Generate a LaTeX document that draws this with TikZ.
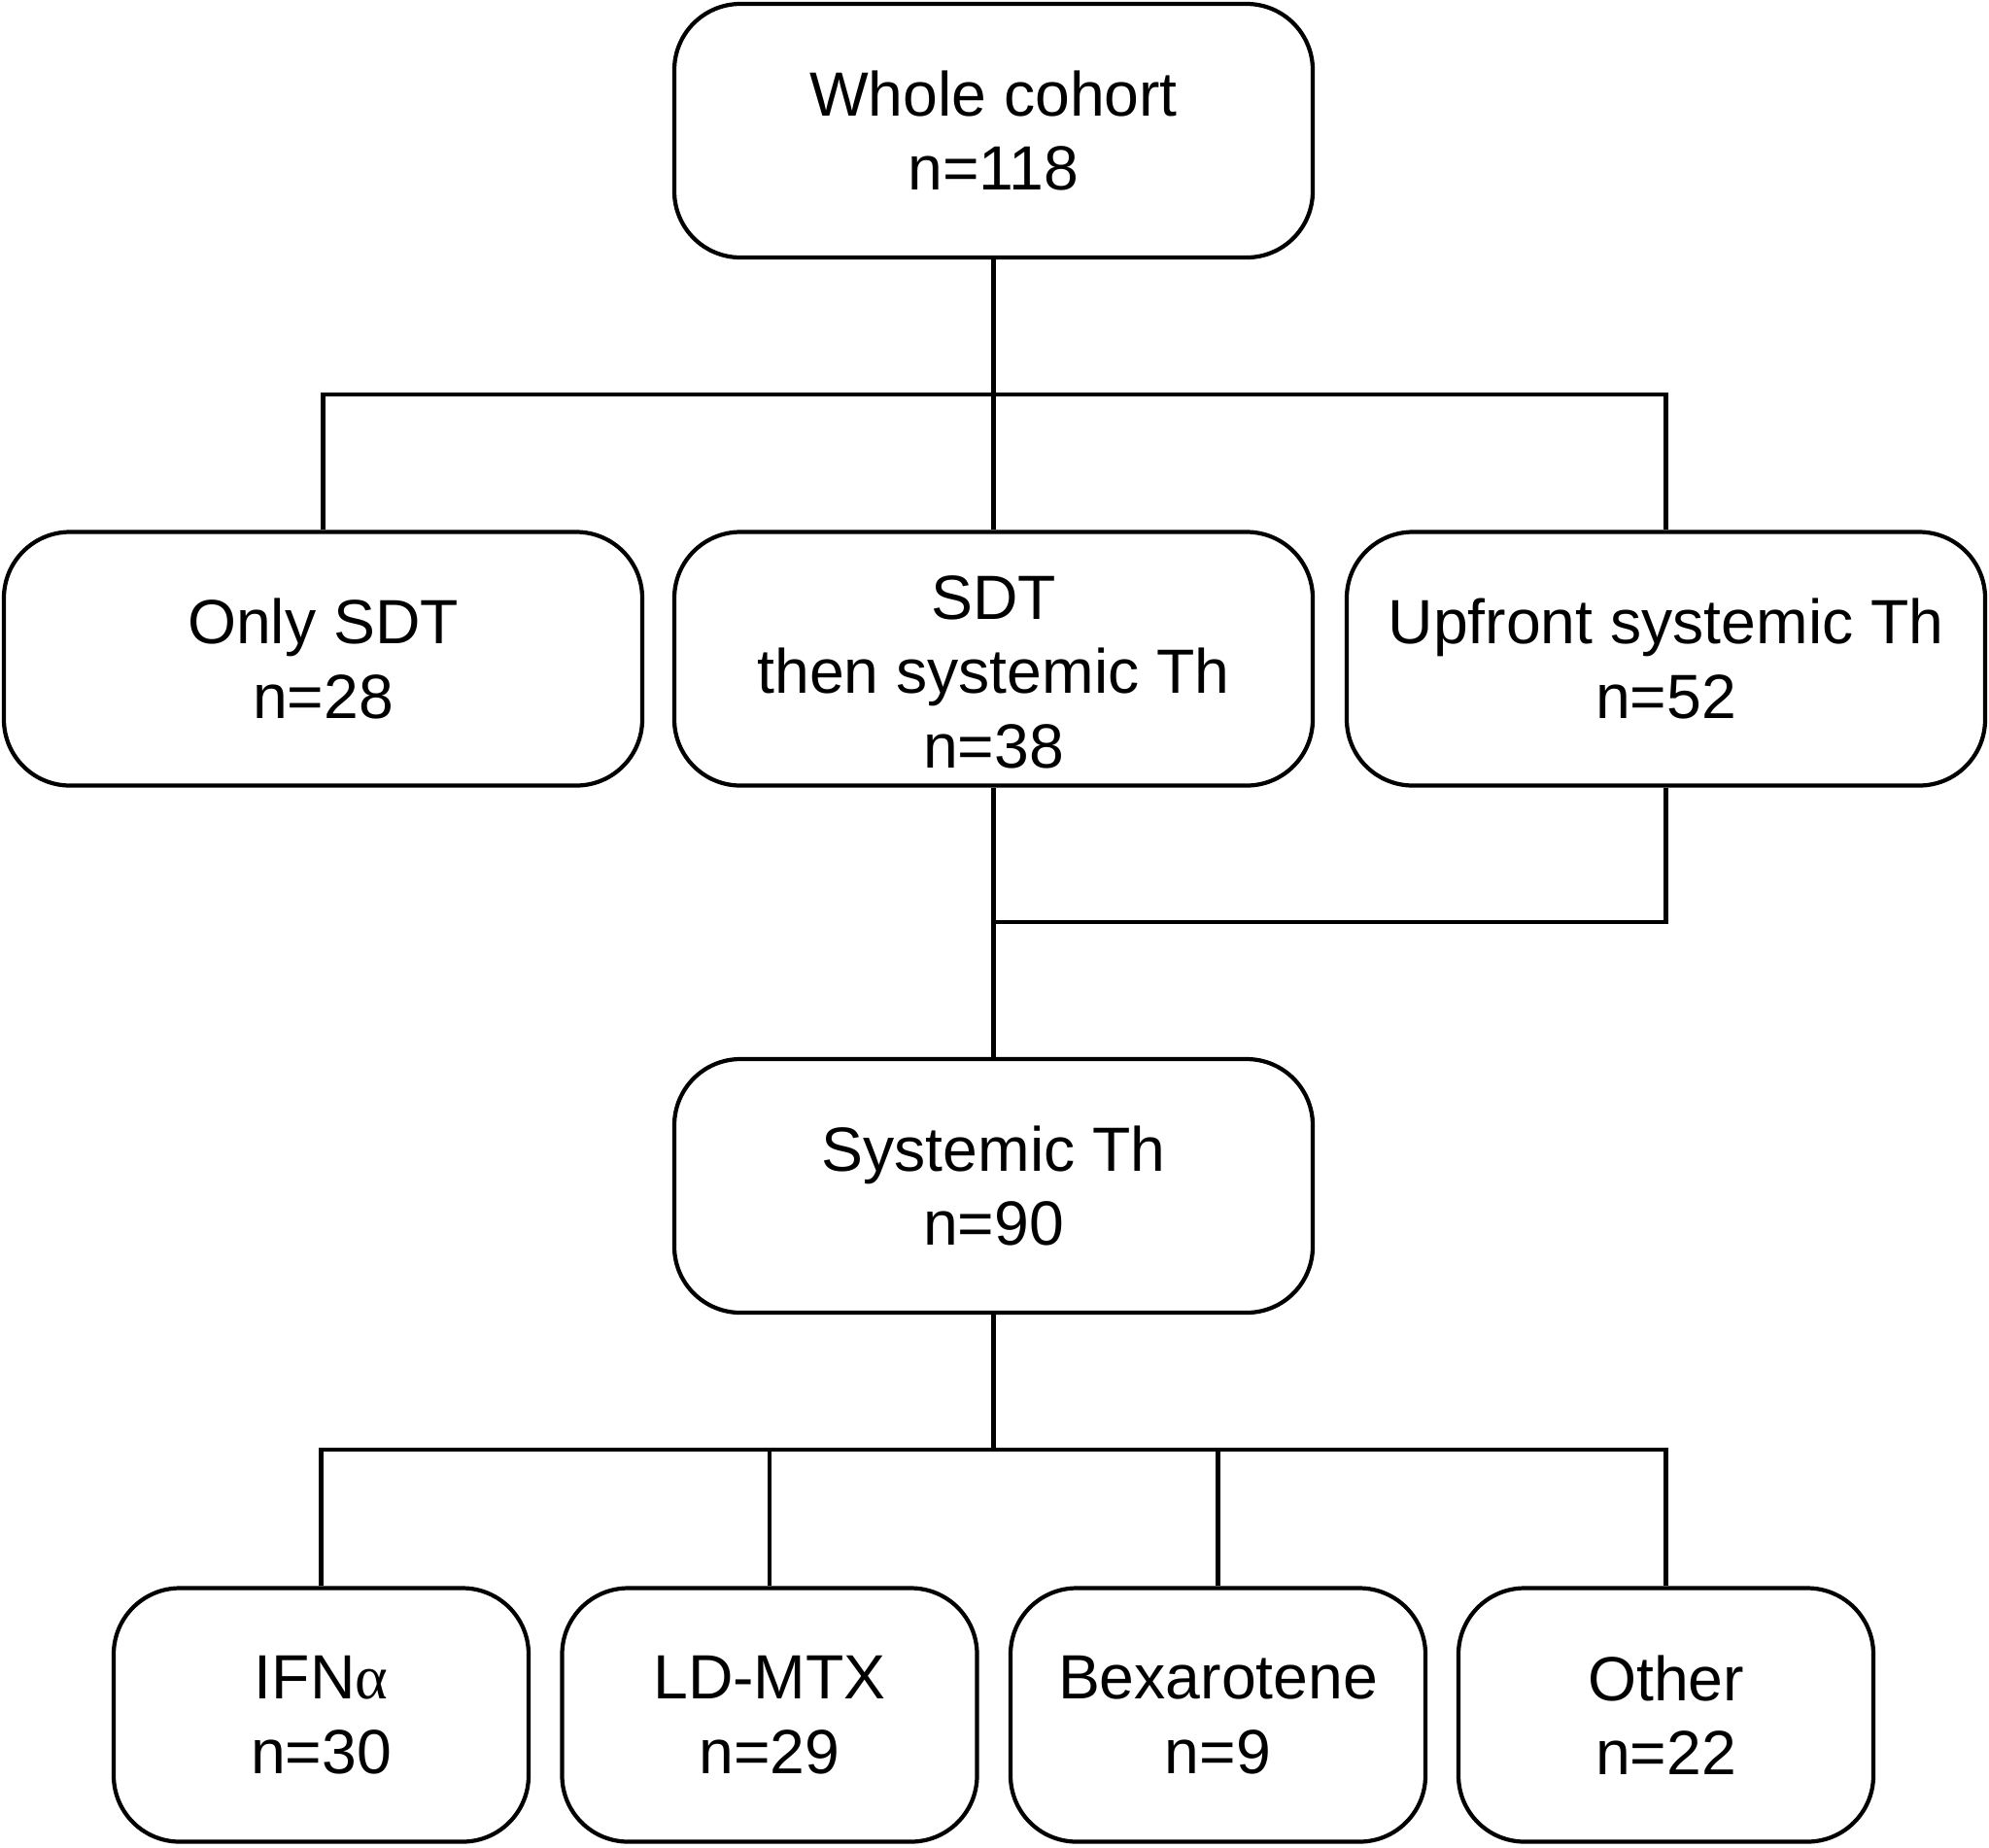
\documentclass[tikz,border=0pt]{standalone}
\usepackage{fontspec}
\setmainfont{Liberation Sans}
\newfontfamily\greekfont{Liberation Serif}
\usetikzlibrary{positioning}

\begin{document}
\begin{tikzpicture}[
    box/.style={draw, line width=1.2pt, rounded corners=0.68cm, minimum width=6.57cm,
                minimum height=2.61cm, align=center,
                font=\fontsize{18.3}{21.8}\selectfont},
    small/.style={box, minimum width=4.27cm},
    link/.style={line width=1.2pt}
  ]
  \useasboundingbox (0,0) rectangle (20.47,-19.01);

  \node[box] (whole) at (10.225,-1.345) {Whole cohort\\n=118};
  \node[box] (only) at (3.325,-6.78) {Only SDT\\n=28};
  \node[box, inner ysep=0pt] (sdtthen) at (10.225,-6.78)
    {\rule{0pt}{20.5pt}SDT\\then systemic Th\\n=38};
  \node[box] (upfront) at (17.145,-6.78) {Upfront systemic Th\\n=52};
  \node[box] (systemic) at (10.225,-12.205) {Systemic Th\\n=90};
  \node[small] (ifn) at (3.305,-17.65) {IFN{\greekfont α}\\n=30};
  \node[small] (ldmtx) at (7.92,-17.65) {LD-MTX\\n=29};
  \node[small] (bexa) at (12.535,-17.65) {Bexarotene\\n=9};
  \node[small] (other) at (17.145,-17.65) {Other\\n=22};

  \coordinate (split1) at (10.225,-4.06);
  \coordinate (merge) at (10.225,-9.49);
  \coordinate (split2) at (10.225,-14.92);

  \draw[link] (whole) -- (sdtthen);
  \draw[link] (only.north) |- (split1) -| (upfront.north);
  \draw[link] (sdtthen) -- (systemic);
  \draw[link] (upfront.south) |- (merge);
  \draw[link] (systemic.south) -- (split2);
  \draw[link] (ifn.north) |- (split2) -| (other.north);
  \draw[link] (ldmtx.north) -- (ldmtx.north |- split2);
  \draw[link] (bexa.north) -- (bexa.north |- split2);
\end{tikzpicture}
\end{document}
